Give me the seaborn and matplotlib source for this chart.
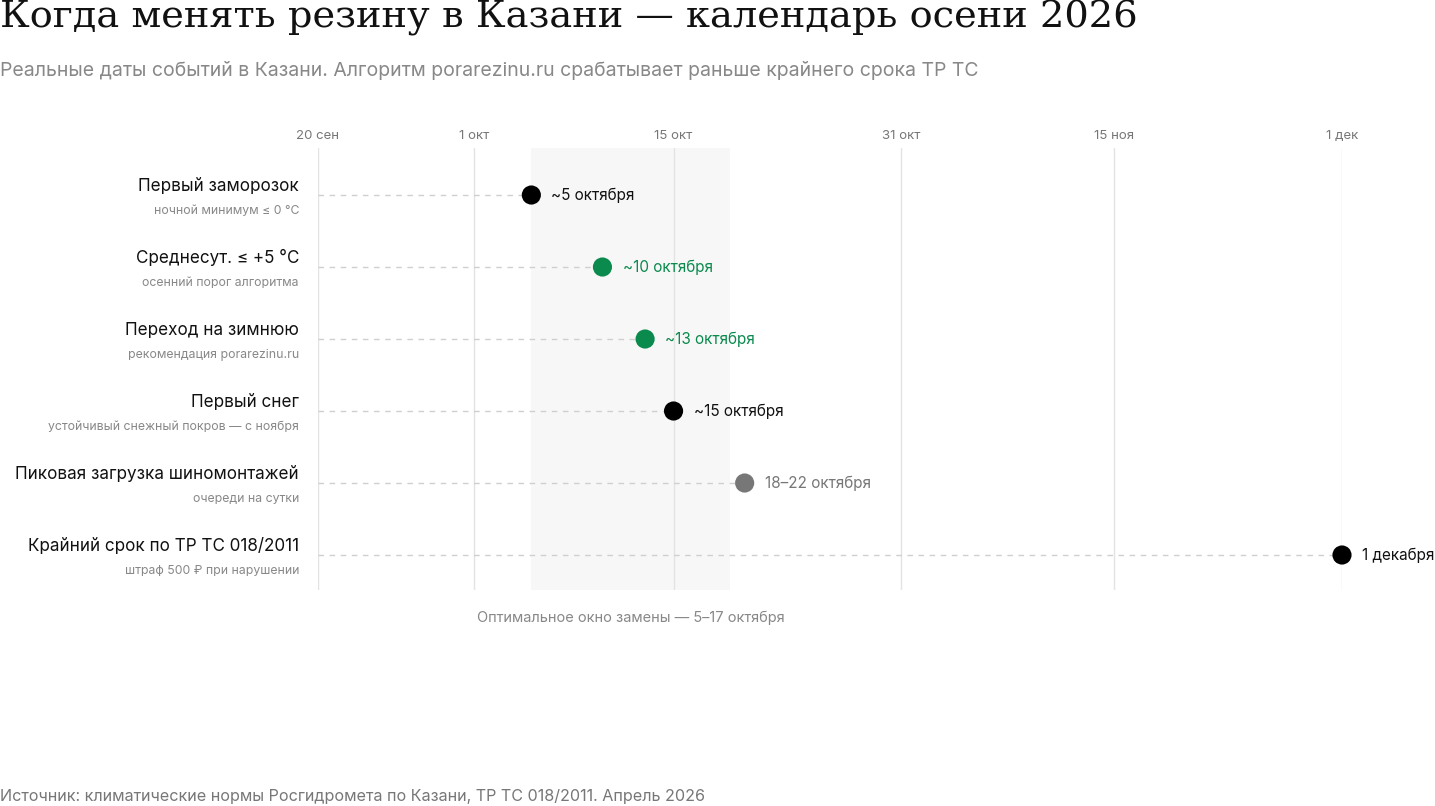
import matplotlib.pyplot as plt
import matplotlib.transforms as mtransforms
import seaborn as sns
import pandas as pd

# данные
events = [
    "Первый заморозок",
    "Среднесут. ≤ +5 °C",
    "Переход на зимнюю",
    "Первый снег",
    "Пиковая загрузка шиномонтажей",
    "Крайний срок по ТР ТС 018/2011",
]
subtitles = [
    "ночной минимум ≤ 0 °C",
    "осенний порог алгоритма",
    "рекомендация porarezinu.ru",
    "устойчивый снежный покров — с ноября",
    "очереди на сутки",
    "штраф 500 ₽ при нарушении",
]
event_dates = ["2026-10-05", "2026-10-10", "2026-10-13", "2026-10-15", "2026-10-20", "2026-12-01"]
date_labels = ["~5 октября", "~10 октября", "~13 октября", "~15 октября", "18–22 октября", "1 декабря"]
kinds = ["факт", "алгоритм", "алгоритм", "факт", "нагрузка", "факт"]

tick_dates = ["2026-09-20", "2026-10-01", "2026-10-15", "2026-10-31", "2026-11-15", "2026-12-01"]
tick_labels = ["20 сен", "1 окт", "15 окт", "31 окт", "15 ноя", "1 дек"]

window_start = "2026-10-05"
window_end = "2026-10-19"
window_label = "Оптимальное окно замены — 5–17 октября"

palette = {"факт": "#000000", "алгоритм": "#0b8a4e", "нагрузка": "#777777"}

df = pd.DataFrame({
    "событие": events,
    "дата": pd.to_datetime(event_dates),
    "тип": kinds,
    "строка": range(len(events)),
})

sns.set_theme(style="white")
plt.rcParams["font.family"] = ["Inter", "DejaVu Sans"]

fig = plt.figure(figsize=(14.35, 8.06), dpi=100)
W, H = 1435, 806
ax = fig.add_axes([318 / W, 1 - 590 / H, (1342 - 318) / W, (590 - 148) / H])

x0 = pd.Timestamp(tick_dates[0])
x1 = pd.Timestamp(tick_dates[-1])
ax.set_xlim(x0, x1)
ax.set_ylim(5.486, -0.653)

# окно замены
ax.axvspan(pd.Timestamp(window_start), pd.Timestamp(window_end), color="#f7f7f7", zorder=0, lw=0)

# вертикальная сетка
for d in tick_dates:
    ax.axvline(pd.Timestamp(d), color="#e3e3e3", lw=1, zorder=1)

# пунктир до точки
for _, r in df.iterrows():
    ax.plot([x0, r["дата"]], [r["строка"], r["строка"]], color="#cfcfcf",
            lw=1, ls=(0, (4, 4)), zorder=2)

sns.scatterplot(data=df, x="дата", y="строка", hue="тип", palette=palette,
                s=190, linewidth=0, legend=False, ax=ax, zorder=3, clip_on=False)

for _, r in df.iterrows():
    ax.annotate(date_labels[r["строка"]], (r["дата"], r["строка"]),
                xytext=(14.5, 0), textcoords="offset points", va="center", ha="left",
                fontsize=11.0, color=palette[r["тип"]] if r["тип"] != "факт" else "#111111",
                annotation_clip=False)

# подписи слева
trans = mtransforms.blended_transform_factory(fig.transFigure, ax.transData)
for i, (t, s) in enumerate(zip(events, subtitles)):
    ax.text(299 / W, i - 0.125, t, transform=trans, ha="right", va="center",
            fontsize=12.3, color="#111111")
    ax.text(299 / W, i + 0.222, s, transform=trans, ha="right", va="center",
            fontsize=8.85, color="#888888")

ax.set_xticks(pd.to_datetime(tick_dates))
ax.set_xticklabels(tick_labels)
ax.set_yticks([])
ax.xaxis.tick_top()
ax.tick_params(axis="x", length=0, pad=4, labelsize=9.5, labelcolor="#777777")
ax.set_xlabel("")
ax.set_ylabel("")
for sp in ax.spines.values():
    sp.set_visible(False)

# подпись окна
mid = pd.Timestamp(window_start) + (pd.Timestamp(window_end) - pd.Timestamp(window_start)) / 2
ax.text(mid, 5.486 + 28 / 72, window_label, ha="center", va="center",
        fontsize=10.5, color="#888888", clip_on=False)

fig.text(0, 1 - 18 / H, "Когда менять резину в Казани — календарь осени 2026",
         family=["DejaVu Serif"], fontsize=27.6, color="#111111",
         ha="left", va="center")
fig.text(0, 1 - 70 / H, "Реальные даты событий в Казани. Алгоритм porarezinu.ru срабатывает раньше крайнего срока ТР ТС",
         fontsize=14, color="#888888", ha="left", va="center")
fig.text(0, 1 - 797 / H, "Источник: климатические нормы Росгидромета по Казани, ТР ТС 018/2011. Апрель 2026",
         fontsize=11.6, color="#777777", ha="left", va="center")

fig.savefig("out.png", dpi=100, facecolor="white")
